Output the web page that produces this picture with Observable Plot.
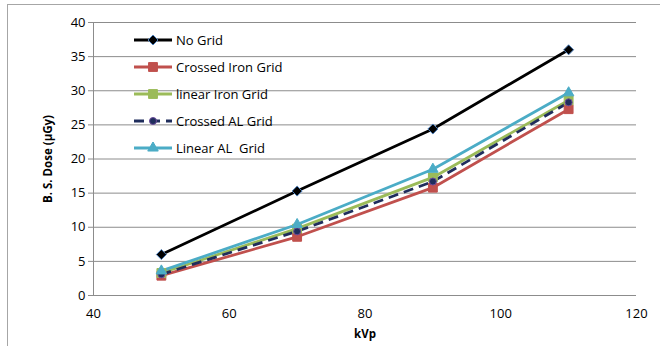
<!DOCTYPE html>
<html>
<head>
<meta charset="utf-8">
<script src="https://cdn.jsdelivr.net/npm/d3@7"></script>
<script src="https://cdn.jsdelivr.net/npm/@observablehq/plot@0.6"></script>
<style>
  html, body { margin: 0; padding: 0; background: #fff; }
  #wrap { position: relative; width: 660px; height: 346px; overflow: hidden; font-family: "Open Sans", sans-serif; }
  #frame { position: absolute; left: 7px; top: 4px; width: 660px; height: 400px; border: 1px solid #a6a6a6; box-sizing: border-box; }
  #chart { position: absolute; left: 0; top: 0; }
  #legend { position: absolute; left: 133px; top: 26px; font-size: 13px; color: #000; }
  .item { display: flex; align-items: center; height: 27px; }
  .item svg { margin-right: 3px; }
</style>
</head>
<body>
<div id="wrap">
  <div id="frame"></div>
  <div id="chart"></div>
  <div id="legend"></div>
</div>
<script>
const kvp = [50, 70, 90, 110];
const seriesNames = ["No Grid", "Crossed Iron Grid", "linear Iron Grid", "Crossed AL Grid", "Linear AL  Grid"];
const noGrid       = [6.0, 15.3, 24.4, 36.0];
const crossedIron  = [2.9, 8.6, 15.8, 27.3];
const linearIron   = [3.3, 9.8, 17.3, 28.6];
const crossedAL    = [3.1, 9.4, 16.7, 28.3];
const linearAL     = [3.6, 10.4, 18.5, 29.7];
const allValues = [noGrid, crossedIron, linearIron, crossedAL, linearAL];
const yTicks = [0, 5, 10, 15, 20, 25, 30, 35, 40];
const xTicks = [40, 60, 80, 100, 120];

const squareDiamond = {
  draw(ctx, size) {
    const h = Math.sqrt(size / 2);
    ctx.moveTo(0, -h); ctx.lineTo(h, 0); ctx.lineTo(0, h); ctx.lineTo(-h, 0); ctx.closePath();
  }
};

const styles = [
  {stroke: "#000000", symbol: squareDiamond, fill: "#000000", mstroke: "#4F81BD", r: 4.0, dash: null},
  {stroke: "#C0504D", symbol: d3.symbolSquare, fill: "#C0504D", mstroke: "#C0504D", r: 5.0, dash: null},
  {stroke: "#9BBB59", symbol: d3.symbolSquare, fill: "#9BBB59", mstroke: "#9BBB59", r: 5.0, dash: null},
  {stroke: "#1F2D5C", symbol: d3.symbolCircle, fill: "#1F2D5C", mstroke: "#6A4A9A", r: 3.5, dash: "10,6"},
  {stroke: "#4BACC6", symbol: d3.symbolTriangle, fill: "#4BACC6", mstroke: "#4BACC6", r: 3.9, dash: null}
];

const data = [];
seriesNames.forEach((s, i) => kvp.forEach((k, j) => data.push({series: s, kvp: k, dose: allValues[i][j]})));

const marks = [
  Plot.ruleY(yTicks, {stroke: "#8c8c8c", strokeWidth: 1})
];
seriesNames.forEach((s, i) => {
  const st = styles[i];
  const d = data.filter(r => r.series === s);
  marks.push(Plot.line(d, {x: "kvp", y: "dose", stroke: st.stroke, strokeWidth: 2.8, strokeDasharray: st.dash || undefined, strokeLinecap: st.dash ? "butt" : "round"}));
});
seriesNames.forEach((s, i) => {
  const st = styles[i];
  const d = data.filter(r => r.series === s);
  marks.push(Plot.dot(d, {x: "kvp", y: "dose", symbol: st.symbol, r: st.r, fill: st.fill, stroke: st.mstroke, strokeWidth: 1}));
});
marks.push(Plot.ruleX([40], {stroke: "#8c8c8c", strokeWidth: 1}));
marks.push(Plot.axisY({ticks: yTicks, tickSize: 5, tickPadding: 3, stroke: "#8c8c8c", color: "#000", label: "B. S. Dose (µGy)", labelAnchor: "center", labelArrow: "none", labelOffset: 50, fontSize: 13}));
marks.push(Plot.axisX({ticks: xTicks, tickSize: 0, tickPadding: 13, color: "#000", label: "kVp", labelAnchor: "center", labelArrow: "none", labelOffset: 42, fontSize: 13}));

const plot = Plot.plot({
  width: 660,
  height: 346,
  marginLeft: 93,
  marginRight: 24,
  marginTop: 22,
  marginBottom: 51,
  style: {fontFamily: "Open Sans, sans-serif", fontSize: "13px", background: "transparent", overflow: "visible"},
  x: {domain: [40, 120]},
  y: {domain: [0, 40]},
  marks
});
plot.querySelectorAll('g[aria-label="y-axis label"] text, g[aria-label="x-axis label"] text').forEach(t => { t.style.fontWeight = "bold"; t.style.fontSize = "11.5px"; });
document.getElementById("chart").appendChild(plot);

// legend
const leg = document.getElementById("legend");
seriesNames.forEach((s, i) => {
  const st = styles[i];
  const div = document.createElement("div");
  div.className = "item";
  const sym = d3.symbol(st.symbol, Math.PI * st.r * st.r)();
  div.innerHTML = `<svg width="40" height="12"><line x1="1" x2="39" y1="6" y2="6" stroke="${st.stroke}" stroke-width="2.8" ${st.dash ? 'stroke-dasharray="10,6"' : ''}/>` +
    `<path d="${sym}" transform="translate(20,6)" fill="${st.fill}" stroke="${st.mstroke}" stroke-width="1"/></svg><span>${s.replace(/  /g, "&nbsp; ")}</span>`;
  leg.appendChild(div);
});
</script>
</body>
</html>
